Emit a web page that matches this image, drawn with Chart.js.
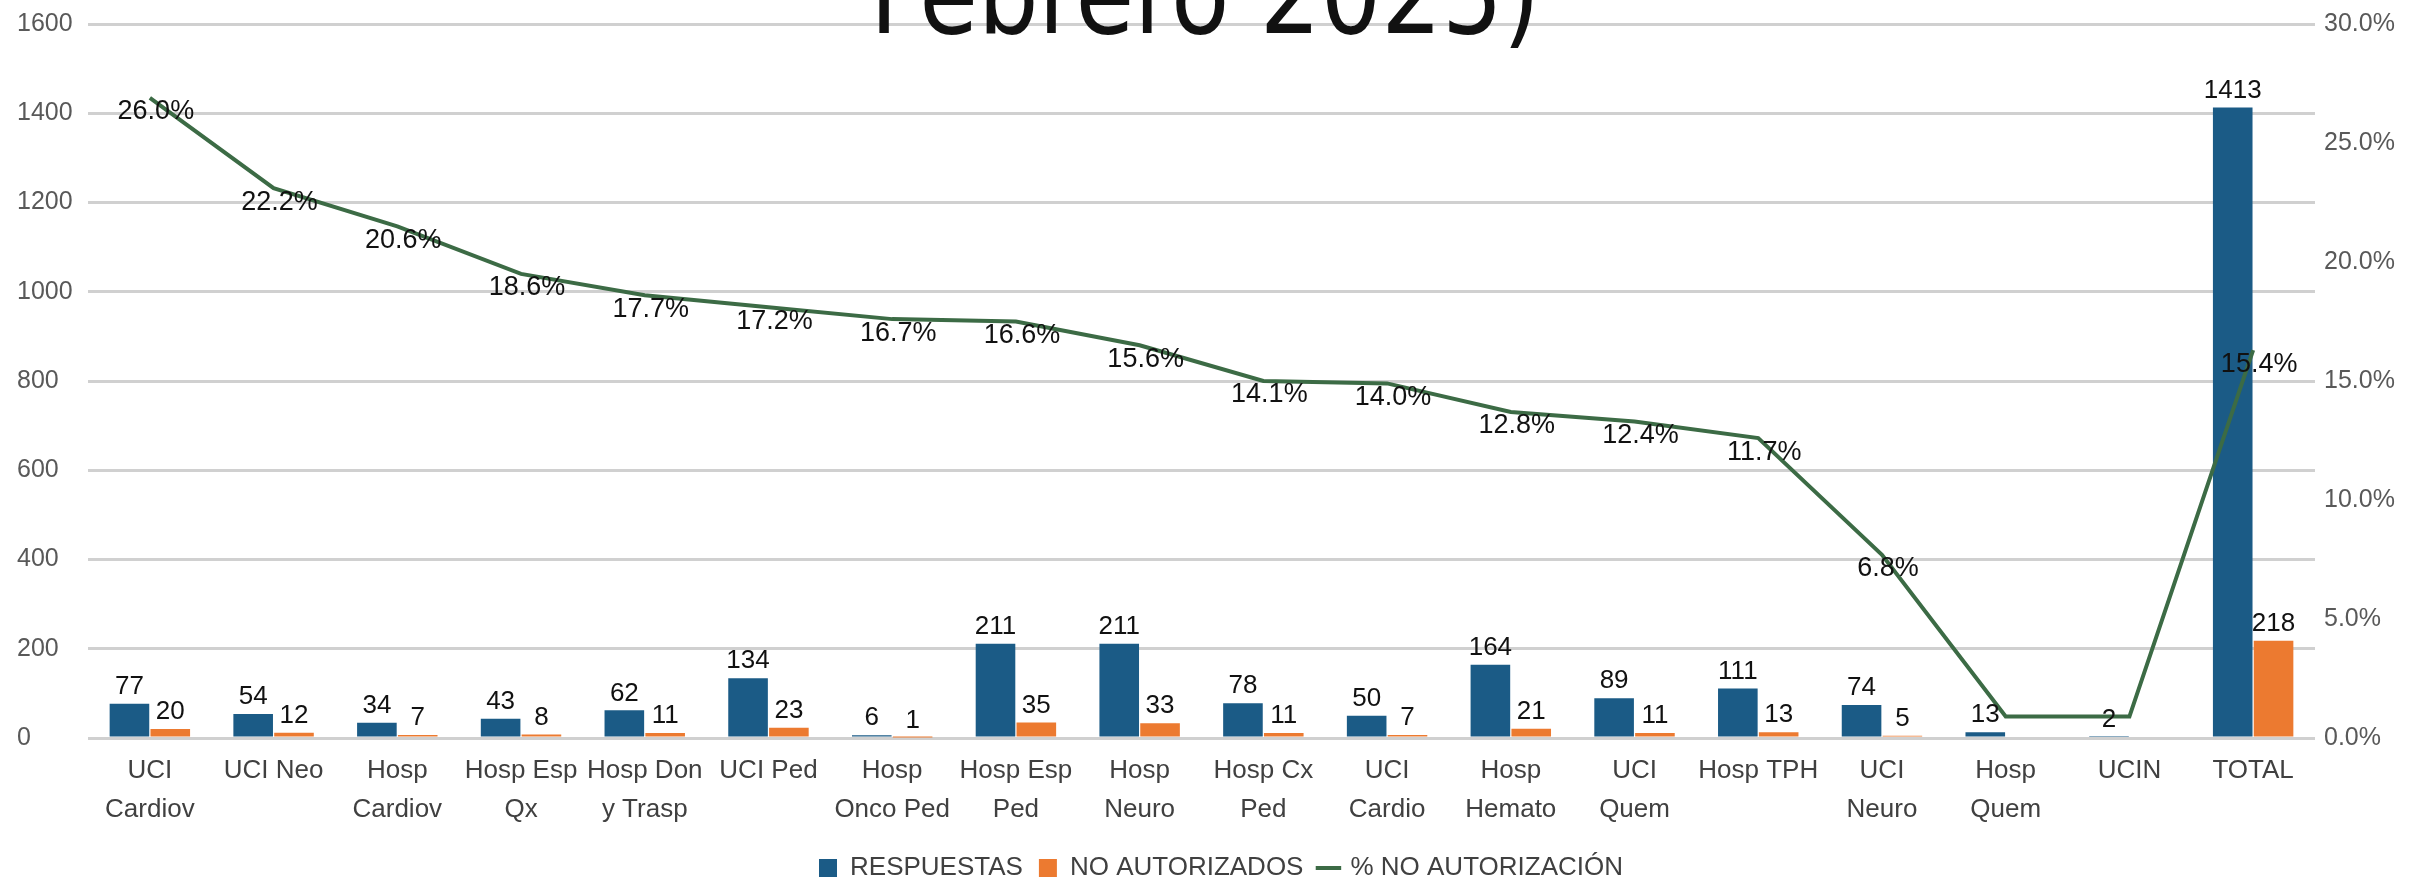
<!DOCTYPE html>
<html>
<head>
<meta charset="utf-8">
<script src="https://cdn.jsdelivr.net/npm/chart.js@4/dist/chart.umd.min.js"></script>
<style>
  html, body { margin: 0; padding: 0; background: #fff; overflow: hidden; }
  #wrap { width: 2425px; height: 882px; position: relative; }
</style>
</head>
<body>
<div id="wrap"><canvas id="grafico" width="2425" height="882"></canvas></div>
<script>
const categorias = [['UCI', 'Cardiov'], 'UCI Neo', ['Hosp', 'Cardiov'], ['Hosp Esp', 'Qx'], ['Hosp Don', 'y Trasp'],
  'UCI Ped', ['Hosp', 'Onco Ped'], ['Hosp Esp', 'Ped'], ['Hosp', 'Neuro'], ['Hosp Cx', 'Ped'], ['UCI', 'Cardio'],
  ['Hosp', 'Hemato'], ['UCI', 'Quem'], 'Hosp TPH', ['UCI', 'Neuro'], ['Hosp', 'Quem'], 'UCIN', 'TOTAL'];
const respuestas = [77, 54, 34, 43, 62, 134, 6, 211, 211, 78, 50, 164, 89, 111, 74, 13, 2, 1413];
const noAutorizados = [20, 12, 7, 8, 11, 23, 1, 35, 33, 11, 7, 21, 11, 13, 5, 0, 0, 218];
const pctNoAutorizacion = [26.0, 22.2, 20.6, 18.6, 17.7, 17.2, 16.7, 16.6, 15.6, 14.1, 14.0, 12.8, 12.4, 11.7, 6.8, 0, 0, 15.4];
const ticksIzq = [0, 200, 400, 600, 800, 1000, 1200, 1400, 1600];
const ticksDer = [0, 5, 10, 15, 20, 25, 30];
const titulo = 'Febrero 2025)';

const fuente = "'Liberation Sans', Arial, sans-serif";
const fuenteTitulo = "'DejaVu Sans Condensed', 'DejaVu Sans', sans-serif";
const azul = '#1B5B86';
const naranja = '#EC7A30';
const verde = '#3C6B45';

// etiquetas de datos (barras arriba, linea junto al punto)
const etiquetas = {
  id: 'etiquetas',
  afterDatasetsDraw(chart) {
    const ctx = chart.ctx;
    ctx.save();
    ctx.fillStyle = '#111';
    ctx.textAlign = 'center';
    chart.data.datasets.forEach((ds, i) => {
      const meta = chart.getDatasetMeta(i);
      meta.data.forEach((el, j) => {
        const v = ds.data[j];
        if (!v) return;
        if (ds.type === 'line') {
          ctx.font = '27px ' + fuente;
          ctx.textBaseline = 'middle';
          ctx.fillText(v.toFixed(1) + '%', el.x + 6, el.y + 14);
        } else {
          ctx.font = '26px ' + fuente;
          ctx.textBaseline = 'bottom';
          ctx.fillText(v, el.x, el.y - 4);
        }
      });
    });
    ctx.restore();
  }
};

// titulo grande recortado por el borde superior
const tituloCortado = {
  id: 'tituloCortado',
  afterDraw(chart) {
    const ctx = chart.ctx;
    ctx.save();
    ctx.font = '112px ' + fuenteTitulo;
    const k = 670 / ctx.measureText(titulo).width;
    ctx.translate(1205, 33);
    ctx.scale(k, 1);
    ctx.fillStyle = '#111';
    ctx.textAlign = 'center';
    ctx.textBaseline = 'alphabetic';
    ctx.fillText(titulo, 0, 0);
    ctx.restore();
  }
};

const ctx = document.getElementById('grafico').getContext('2d');
const chart = new Chart(ctx, {
  type: 'bar',
  data: {
    labels: categorias,
    datasets: [{
      label: 'RESPUESTAS',
      data: respuestas,
      backgroundColor: azul,
      pointStyle: 'rect',
      yAxisID: 'y',
      order: 1
    }, {
      label: 'NO AUTORIZADOS',
      data: noAutorizados,
      backgroundColor: naranja,
      pointStyle: 'rect',
      yAxisID: 'y',
      order: 1
    }, {
      type: 'line',
      label: '% NO AUTORIZACIÓN',
      data: pctNoAutorizacion,
      borderColor: verde,
      backgroundColor: verde,
      borderWidth: 4,
      pointRadius: 0,
      pointStyle: 'line',
      tension: 0,
      yAxisID: 'yLinea',
      order: 0
    }]
  },
  options: {
    responsive: false,
    animation: false,
    devicePixelRatio: 1,
    layout: { padding: { top: 23, left: 17, right: 0, bottom: -9 } },
    datasets: {
      bar: { categoryPercentage: 0.66, barPercentage: 0.97 }
    },
    plugins: {
      legend: {
        position: 'bottom',
        labels: {
          usePointStyle: true,
          boxWidth: 18,
          boxHeight: 18,
          padding: 16,
          color: '#404040',
          font: { family: fuente, size: 26 },
          sort: (a, b) => a.datasetIndex - b.datasetIndex
        }
      },
      tooltip: { enabled: false }
    },
    scales: {
      x: {
        grid: { display: false },
        border: { display: false },
        ticks: {
          color: '#404040',
          padding: 5,
          maxRotation: 0,
          autoSkip: false,
          font: { family: fuente, size: 26, lineHeight: 1.5 }
        },
        afterFit: (s) => { s.height = 101; }
      },
      y: {
        position: 'left',
        min: 0,
        max: 1600,
        afterBuildTicks: (s) => { s.ticks = ticksIzq.map(v => ({ value: v })); },
        grid: { color: '#D0D0D0', lineWidth: 3, drawTicks: false },
        border: { display: false },
        ticks: {
          color: '#595959',
          crossAlign: 'far',
          font: { family: fuente, size: 25 },
          callback: (v) => String(v)
        },
        afterFit: (s) => { s.width = 71; }
      },
      y1: {
        position: 'right',
        min: 0,
        max: 30,
        afterBuildTicks: (s) => { s.ticks = ticksDer.map(v => ({ value: v })); },
        grid: { display: false, drawTicks: false },
        border: { display: false },
        ticks: {
          color: '#595959',
          padding: 9,
          font: { family: fuente, size: 25 },
          callback: (v) => v.toFixed(1) + '%'
        },
        afterFit: (s) => { s.width = 110; }
      },
      // en la imagen la linea queda ~0.9 puntos por encima de su eje
      yLinea: {
        display: false,
        min: -0.9,
        max: 29.1
      }
    }
  },
  plugins: [etiquetas, tituloCortado]
});
</script>
</body>
</html>
